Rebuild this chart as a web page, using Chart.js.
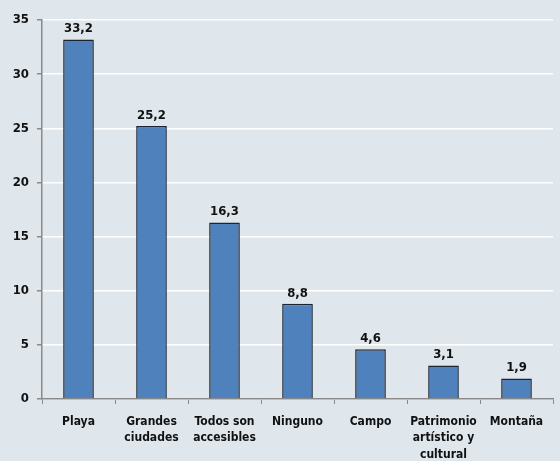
<!DOCTYPE html>
<html lang="es">
<head>
  <meta charset="UTF-8" />
  <title>Destinos preferidos</title>
  <script src="https://cdn.jsdelivr.net/npm/chart.js"></script>
  <style>
    body {
      margin: 0;
      padding: 0;
      background: #dfe6ec;
    }
    #wrap {
      width: 560px;
      height: 461px;
    }
  </style>
</head>
<body>
  <div id="wrap"><canvas id="chart" width="560" height="461"></canvas></div>

  <script>
    const categorias = [
      "Playa",
      ["Grandes", "ciudades"],
      ["Todos son", "accesibles"],
      "Ninguno",
      "Campo",
      ["Patrimonio", "artístico y", "cultural"],
      "Montaña"
    ];
    const valores = [33.2, 25.2, 16.3, 8.8, 4.6, 3.1, 1.9];
    const yTicks = [0, 5, 10, 15, 20, 25, 30, 35];

    const fuente = "'Liberation Sans Narrow', 'DejaVu Sans Condensed', sans-serif";

    // etiquetas con el valor encima de cada barra
    const etiquetas = {
      id: "etiquetas",
      afterDatasetsDraw(chart) {
        const ctx = chart.ctx;
        const meta = chart.getDatasetMeta(0);
        ctx.save();
        ctx.font = "bold 13px " + fuente;
        ctx.fillStyle = "#111";
        ctx.textAlign = "center";
        ctx.textBaseline = "bottom";
        meta.data.forEach((bar, i) => {
          const txt = valores[i].toFixed(1).replace(".", ",");
          ctx.fillText(txt, bar.x, bar.y - 4);
        });
        ctx.restore();
      }
    };

    new Chart(document.getElementById("chart"), {
      type: "bar",
      data: {
        labels: categorias,
        datasets: [{
          data: valores,
          backgroundColor: "#4f81bd",
          borderColor: "#1b2430",
          borderWidth: 1.5,
          barPercentage: 0.84,
          categoryPercentage: 0.5
        }]
      },
      options: {
        responsive: false,
        animation: false,
        layout: { padding: { top: 20, right: 7, left: 0, bottom: 0 } },
        plugins: {
          legend: { display: false },
          tooltip: { enabled: false }
        },
        scales: {
          x: {
            offset: true,
            afterFit: s => { s.height = 62; },
            grid: {
              offset: true,
              drawOnChartArea: false,
              tickLength: 5,
              tickColor: "#8a8a8a"
            },
            border: { color: "#8a8a8a", width: 1.5 },
            ticks: {
              color: "#111",
              font: { family: fuente, size: 12, weight: "bold", lineHeight: 1.4 },
              padding: 9,
              maxRotation: 0,
              autoSkip: false
            }
          },
          y: {
            min: 0,
            max: 35,
            afterFit: s => { s.width = 42; },
            afterBuildTicks: s => { s.ticks = yTicks.map(v => ({ value: v })); },
            grid: {
              color: "#ffffff",
              lineWidth: 1.5,
              tickLength: 5,
              tickColor: "#8a8a8a"
            },
            border: { color: "#8a8a8a", width: 1.5 },
            ticks: {
              color: "#111",
              font: { family: fuente, size: 13, weight: "bold" },
              padding: 8
            }
          }
        }
      },
      plugins: [etiquetas]
    });
  </script>
</body>
</html>
